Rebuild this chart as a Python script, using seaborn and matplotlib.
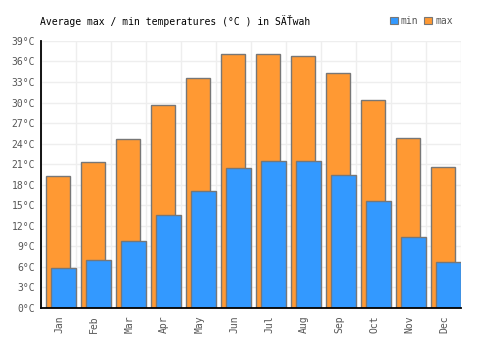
import numpy as np
import pandas as pd
import seaborn as sns
import matplotlib.pyplot as plt
from matplotlib.patches import Patch

# Data
months = ['Jan', 'Feb', 'Mar', 'Apr', 'May', 'Jun', 'Jul', 'Aug', 'Sep', 'Oct', 'Nov', 'Dec']
temp_max = [19.3, 21.3, 24.7, 29.6, 33.6, 37.1, 37.1, 36.8, 34.3, 30.4, 24.8, 20.6]
temp_min = [5.8, 7.0, 9.8, 13.6, 17.1, 20.4, 21.5, 21.5, 19.4, 15.6, 10.4, 6.7]
y_ticks = list(range(0, 40, 3))

MAX_COLOR = '#ff9933'
MIN_COLOR = '#3399ff'
EDGE = '#777777'

sns.set_theme(style='white')
plt.rcParams['font.family'] = ['DejaVu Sans Mono', 'DejaVu Sans']

idx = np.arange(len(months))
df = pd.DataFrame({'month': months, 'max': temp_max, 'min': temp_min,
                   'pos_max': idx + 0.49, 'pos_min': idx + 0.65})

fig = plt.figure(figsize=(5, 3.5), dpi=100)
ax = fig.add_axes([0.0814, 0.12, 0.84, 0.763])

sns.barplot(data=df, x='pos_max', y='max', native_scale=True, orient='x',
            width=0.675, color=MAX_COLOR, saturation=1, edgecolor=EDGE,
            linewidth=1, ax=ax, zorder=2)
sns.barplot(data=df, x='pos_min', y='min', native_scale=True, orient='x',
            width=0.695, color=MIN_COLOR, saturation=1, edgecolor=EDGE,
            linewidth=1, ax=ax, zorder=3)

ax.set_xlim(0, len(months))
ax.set_ylim(0, 39)
ax.set_xticks(idx + 0.53)
ax.set_xticklabels(months, rotation=90, fontsize=7, color='#555555')
ax.set_xticks(np.arange(len(months) + 1), minor=True)
ax.set_yticks(y_ticks)
ax.set_yticklabels([f'{t}°C' for t in y_ticks], fontsize=7, color='#555555')
ax.tick_params(axis='both', which='both', length=0)
ax.tick_params(axis='x', pad=5)
ax.tick_params(axis='y', pad=4)
ax.set_xlabel('')
ax.set_ylabel('')

ax.grid(False)
ax.grid(True, axis='y', which='major', color='#eeeeee', linewidth=1, zorder=0)
ax.grid(True, axis='x', which='minor', color='#eeeeee', linewidth=1, zorder=0)
ax.set_axisbelow(True)

for side in ['top', 'right']:
    ax.spines[side].set_visible(False)
for side in ['left', 'bottom']:
    ax.spines[side].set_color('black')
    ax.spines[side].set_linewidth(1.3)
    ax.spines[side].set_zorder(5)

fig.text(0.08, 0.94, 'Average max / min temperatures (°C ) in SÄŤwah',
         fontsize=7, color='black', va='center', ha='left')

handles = [Patch(facecolor=MIN_COLOR, edgecolor=EDGE, linewidth=0.8, label='min'),
           Patch(facecolor=MAX_COLOR, edgecolor=EDGE, linewidth=0.8, label='max')]
leg = fig.legend(handles=handles, loc='center right', bbox_to_anchor=(0.915, 0.94),
                 ncol=2, frameon=False, fontsize=7, handlelength=0.8, handleheight=0.8,
                 handletextpad=0.3, columnspacing=0.6, borderpad=0)
for t in leg.get_texts():
    t.set_color('#555555')

fig.savefig('out.png', dpi=100)
